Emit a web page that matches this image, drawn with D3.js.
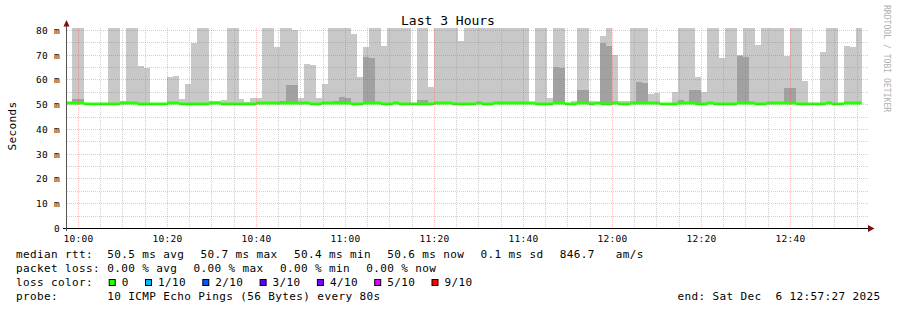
<!DOCTYPE html>
<meta charset="utf-8">
<style>
body { margin: 0; background: #fff; }
text { font-family: "DejaVu Sans Mono", monospace; fill: #000; white-space: pre; }
</style>
<body>
<script src="https://d3js.org/d3.v7.min.js"></script>
<script>
var width = 897, height = 310;
var plotLeft = 67, plotRight = 868, plotTop = 28, plotBottom = 228.5;

var startTime = new Date(2025, 11, 6, 9, 57, 27),
    endTime = new Date(2025, 11, 6, 12, 57, 27),
    firstSample = new Date(2025, 11, 6, 9, 57, 20),
    stepSec = 80;

// one value per 80 s step, ms. outer = top of light smoke, inner = top of dark smoke
var outer = [
  null,90,90,null,null,null,null,90,90,51.5,
  90,90,65.7,64.8,null,null,null,61.2,61.6,52.3,
  58.4,74.9,90,90,51.5,51.5,51.8,90,90,52.3,
  51.3,52.7,52.7,90,90,73.3,90,90,80.2,52.7,
  66.5,66.1,52.7,58.4,90,90,90,90,78.6,61.2,
  73.3,90,90,73.7,90,90,90,90,null,90,
  90,57.2,90,90,90,90,75.8,90,90,90,
  90,90,90,90,90,90,90,90,null,90,
  90,52.7,90,90,null,51.5,90,90,51.5,null,
  77.8,90,70.1,51.5,51.5,90,90,90,54.3,54.7,
  null,null,55.2,90,90,90,61.2,55.0,90,90,
  68.9,90,90,70.1,90,90,74.1,90,90,90,
  90,69.7,90,90,59.6,null,null,71.3,90,90,
  null,73.7,73.3,90
];
var inner = [
  null,52.3,52.3,null,null,null,null,null,null,null,
  null,null,null,null,null,null,null,null,null,null,
  null,null,null,null,null,null,null,null,null,null,
  null,null,null,null,null,null,51.5,58.0,58.0,null,
  null,null,null,null,null,51.5,53.1,52.7,null,null,
  69.3,68.9,null,null,null,null,null,null,null,51.9,
  51.9,null,null,null,null,null,null,null,null,null,
  null,null,null,null,null,null,null,null,null,null,
  null,null,65.3,64.8,null,null,56.0,56.0,null,null,
  74.9,73.7,null,null,null,null,59.2,58.8,null,null,
  null,null,null,51.9,null,56.0,56.0,null,null,null,
  null,null,null,69.7,69.3,null,null,null,null,null,
  null,56.8,56.8,null,null,null,null,null,null,null,
  null,null,null,null
];
var median = [
  50.7,50.7,50.7,50.35,50.35,50.35,50.35,50.35,50.35,50.7,
  50.7,50.7,50.35,50.35,50.35,50.35,50.35,50.7,50.7,50.35,
  50.35,50.35,50.35,50.35,50.7,50.7,50.35,50.35,50.35,50.35,
  50.35,50.35,50.7,50.7,50.7,50.7,50.7,50.7,50.7,50.7,
  50.7,50.35,50.35,50.7,50.7,50.7,50.7,50.7,50.35,50.35,
  50.7,50.7,50.7,50.35,50.35,50.7,50.35,50.35,50.35,50.35,
  50.35,50.35,50.7,50.7,50.7,50.35,50.35,50.35,50.35,50.7,
  50.35,50.35,50.7,50.7,50.7,50.7,50.7,50.7,50.7,50.35,
  50.35,50.35,50.7,50.7,50.35,50.35,50.7,50.7,50.35,50.7,
  50.35,50.35,50.7,50.35,50.35,50.7,50.7,50.7,50.7,50.7,
  50.35,50.35,50.35,50.7,50.7,50.7,50.35,50.35,50.7,50.35,
  50.35,50.35,50.35,50.7,50.7,50.7,50.35,50.35,50.7,50.7,
  50.7,50.7,50.7,50.35,50.35,50.35,50.35,50.35,50.7,50.35,
  50.35,50.7,50.7,50.7
];
var smokeFloor = 50.2;

var yTicks = [0, 10, 20, 30, 40, 50, 60, 70, 80];
var lossColors = [
  {label: "0", color: "#26ff00"},
  {label: "1/10", color: "#00b8ff"},
  {label: "2/10", color: "#0059ff"},
  {label: "3/10", color: "#5e00ff"},
  {label: "4/10", color: "#7e00ff"},
  {label: "5/10", color: "#dd00ff"},
  {label: "9/10", color: "#ff0000"}
];
var rttHead = "median rtt:";
var rttItems = ["50.5 ms avg", "50.7 ms max", "50.4 ms min", "50.6 ms now", "0.1 ms sd", "846.7   am/s"];
var lossHead = "packet loss:";
var lossItems = ["0.00 % avg", "0.00 % max", "0.00 % min", "0.00 % now"];
var colorHead = "loss color:";
var probeHead = "probe:";
var probeText = "10 ICMP Echo Pings (56 Bytes) every 80s";
var endLabel = "end: Sat Dec  6 12:57:27 2025";

var svg = d3.select("body").append("svg")
    .attr("width", width)
    .attr("height", height);

var x = d3.scaleTime().domain([startTime, endTime]).range([plotLeft, plotRight]);
var y = d3.scaleLinear().domain([0, 81]).range([plotBottom, plotTop]);

var samples = outer.map(function(v, i) {
  return {
    t0: new Date(firstSample.getTime() + i * stepSec * 1000),
    t1: new Date(firstSample.getTime() + (i + 1) * stepSec * 1000),
    outer: v, inner: inner[i], median: median[i]
  };
});

svg.append("clipPath").attr("id", "plot")
  .append("rect")
    .attr("x", plotLeft).attr("y", plotTop)
    .attr("width", plotRight - plotLeft).attr("height", plotBottom - plotTop);

var plot = svg.append("g").attr("clip-path", "url(#plot)");

function smoke(key, color) {
  plot.append("g")
      .attr("shape-rendering", "crispEdges")
    .selectAll("rect")
    .data(samples.filter(function(d) { return d[key] != null; }))
    .join("rect")
      .attr("x", function(d) { return x(d.t0); })
      .attr("width", function(d) { return x(d.t1) - x(d.t0); })
      .attr("y", function(d) { return y(d[key]); })
      .attr("height", function(d) { return y(smokeFloor) - y(d[key]); })
      .attr("fill", color);
}
smoke("outer", "#c8c8c8");
smoke("inner", "#a1a1a1");

// grid
var grid = svg.append("g").attr("fill", "none").attr("stroke-width", 1);
var minorX = d3.timeMinute.every(5).range(startTime, endTime)
    .filter(function(d) { return d.getMinutes() % 20 != 0; });
var majorX = d3.timeMinute.every(20).range(startTime, endTime);
var minorY = d3.range(5, 81, 10);
var majorY = yTicks.filter(function(v) { return v > 0; });

function px(v) { return Math.floor(v) + 0.5; }

var minorCol = "rgba(140,140,140,0.4)", majorCol = "rgba(230,60,60,0.32)";
grid.selectAll(".mx").data(minorX).join("line")
    .attr("x1", function(d) { return px(x(d)); }).attr("x2", function(d) { return px(x(d)); })
    .attr("y1", plotTop).attr("y2", plotBottom)
    .attr("stroke", minorCol).attr("stroke-dasharray", "1,1");
grid.selectAll(".my").data(minorY).join("line")
    .attr("y1", function(d) { return px(y(d)); }).attr("y2", function(d) { return px(y(d)); })
    .attr("x1", plotLeft).attr("x2", plotRight)
    .attr("stroke", minorCol).attr("stroke-dasharray", "1,1");
grid.selectAll(".Mx").data(majorX).join("line")
    .attr("x1", function(d) { return px(x(d)); }).attr("x2", function(d) { return px(x(d)); })
    .attr("y1", plotTop).attr("y2", plotBottom)
    .attr("stroke", majorCol).attr("stroke-dasharray", "1,1");
grid.selectAll(".My").data(majorY).join("line")
    .attr("y1", function(d) { return px(y(d)); }).attr("y2", function(d) { return px(y(d)); })
    .attr("x1", plotLeft).attr("x2", plotRight)
    .attr("stroke", majorCol).attr("stroke-dasharray", "1,1");

// median line
var band = d3.area()
    .curve(d3.curveStepAfter)
    .x(function(d) { return x(d.t); })
    .y0(function(d) { return y(d.m - 0.6); })
    .y1(function(d) { return y(d.m + 0.6); });
var medPts = samples.map(function(d) { return {t: d.t0, m: d.median}; });
medPts.push({t: samples[samples.length - 1].t1, m: median[median.length - 1]});
plot.append("path").datum(medPts).attr("d", band).attr("fill", "#26ff00");

// axes
svg.append("line")
    .attr("x1", 63).attr("x2", plotRight + 1)
    .attr("y1", px(y(0))).attr("y2", px(y(0)))
    .attr("stroke", "#000");
svg.append("line")
    .attr("x1", plotLeft - 0.5).attr("x2", plotLeft - 0.5)
    .attr("y1", 24).attr("y2", 231)
    .attr("stroke", "#555");
svg.append("path")
    .attr("d", "M63.5,26.5L66.5,20L69.5,26.5Z")
    .attr("fill", "#7f0f0f");
svg.append("path")
    .attr("d", "M868,225L874.5,228.5L868,232Z")
    .attr("fill", "#7f0f0f");

// tick labels
svg.append("g").selectAll("text").data(yTicks).join("text")
    .attr("x", 60).attr("y", function(d) { return px(y(d)) + 3.5; })
    .attr("text-anchor", "end")
    .style("font-size", "9.5px").style("letter-spacing", "0.3px")
    .text(function(d) { return d === 0 ? "0" : d + " m"; });

var fmt = d3.timeFormat("%H:%M");
svg.append("g").selectAll("text").data(majorX).join("text")
    .attr("x", function(d) { return px(x(d)); }).attr("y", 241.5)
    .attr("text-anchor", "middle")
    .style("font-size", "9.5px").style("letter-spacing", "0.3px")
    .text(fmt);

svg.append("text")
    .attr("transform", "translate(15.5,126) rotate(-90)")
    .attr("text-anchor", "middle")
    .style("font-size", "11px").style("letter-spacing", "0.38px")
    .text("Seconds");

svg.append("text")
    .attr("x", 448).attr("y", 24.5)
    .attr("text-anchor", "middle")
    .style("font-size", "13px")
    .text("Last 3 Hours");

svg.append("text")
    .attr("transform", "translate(884,5) rotate(90)")
    .style("font-size", "8.1px")
    .style("fill", "#b0b0b0")
    .text("RRDTOOL / TOBI OETIKER");

// legend
var charW = 7.0, gap = 16.3, col2 = 107.3;
var legend = svg.append("g").style("font-size", "11px").style("letter-spacing", "0.38px");

function row(head, items, yy) {
  legend.append("text").attr("x", 16).attr("y", yy).text(head);
  var xx = col2;
  items.forEach(function(s) {
    legend.append("text").attr("x", xx).attr("y", yy).text(s);
    xx += s.length * charW + gap;
  });
}
row(rttHead, rttItems, 258);
row(lossHead, lossItems, 272);
row(colorHead, [], 286);
row(probeHead, [probeText], 300);

var bx = 108.7;
lossColors.forEach(function(d) {
  legend.append("rect")
      .attr("x", bx + 0.5).attr("y", 279.5)
      .attr("width", 6).attr("height", 6)
      .attr("fill", d.color).attr("stroke", "#000").attr("stroke-width", 1);
  legend.append("text")
      .attr("x", bx + 13).attr("y", 286)
      .text(d.label);
  bx += 13 + d.label.length * charW + gap;
});

legend.append("text")
    .attr("x", 880.5).attr("y", 300)
    .attr("text-anchor", "end")
    .text(endLabel);
</script>
</body>
